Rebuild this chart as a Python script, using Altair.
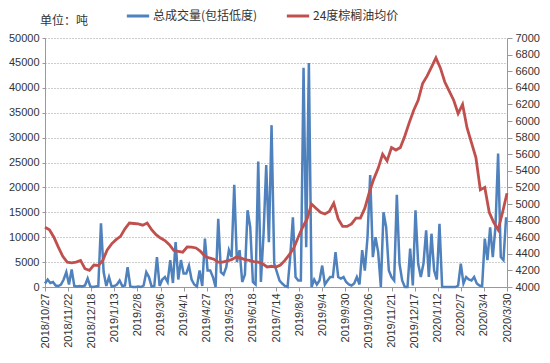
import altair as alt
import pandas as pd

start = "2018-10-27"
vol_name = "总成交量(包括低度)"
price_name = "24度棕榈油均价"

# volume (tons), one reading every 3 days from 2018/10/27
volume = [
    700, 1500, 800, 1000, 300, 200, 500, 1500, 3000, 500,
    3500, 200, 100, 200, 100, 300, 1700, 100, 0, 100,
    200, 12800, 3000, 200, 2000, 100, 200, 500, 1300, 200,
    300, 4000, 100, 0, 0, 100, 0, 300, 3000, 2000,
    100, 200, 6000, 200, 1500, 2000, 1000, 5400, 800, 9000,
    1500, 5400, 2700, 2700, 4300, 1500, 500, 100, 3300, 200,
    9700, 3300, 3300, 2000, 0, 13700, 3000, 2500, 4000, 7400,
    6000, 20500, 5000, 7400, 1000, 2500, 15400, 12000, 1000, 500,
    25200, 1000, 10700, 24500, 9000, 32500, 4700, 3000, 1300, 700,
    200, 0, 6000, 14000, 2000, 1300, 1300, 44000, 8000, 45000,
    0, 1500, 500, 1300, 4300, 500, 1300, 2000, 2000, 7000,
    2000, 1700, 2000, 1000, 500, 300, 700, 2000, 500, 7400,
    3300, 10000, 22500, 6000, 10000, 7000, 0, 15000, 12000, 3300,
    2000, 1300, 18500, 4700, 1300, 0, 0, 7700, 300, 15400,
    4700, 2000, 4700, 11400, 2000, 10700, 3300, 1500, 12700, 0,
    0, 0, 0, 0, 0, 300, 4700, 700, 2000, 1500,
    1300, 2000, 700, 300, 200, 9700, 5400, 12000, 6000, 12000,
    26800, 6000, 5400, 14000,
]

# average price, one reading every 5 days from 2018/10/27
price = [
    4720, 4690, 4600, 4480, 4370, 4300, 4290, 4300, 4320, 4220,
    4200, 4265, 4260, 4320, 4446, 4520, 4570, 4610, 4700, 4771,
    4765, 4760, 4745, 4771, 4690, 4630, 4590, 4560, 4510, 4440,
    4430, 4420, 4482, 4480, 4470, 4430, 4370, 4350, 4335, 4300,
    4300, 4315, 4330, 4360, 4350, 4330, 4320, 4305, 4300, 4280,
    4241, 4250, 4240, 4265, 4320, 4390, 4470, 4600, 4720, 4820,
    5000, 4950, 4900, 4880, 4910, 5010, 4820, 4730, 4730, 4760,
    4830, 4830, 4950, 5140, 5300, 5430, 5600, 5520, 5680, 5650,
    5680, 5820, 5980, 6130, 6250, 6450, 6540, 6650, 6760, 6640,
    6470, 6360, 6250, 6090, 6200, 5920, 5740, 5560, 5170, 5200,
    4900, 4780, 4690, 4900, 5130,
]

tick_labels = [
    "2018/10/27", "2018/11/22", "2018/12/18", "2019/1/13", "2019/2/8",
    "2019/3/6", "2019/4/1", "2019/4/27", "2019/5/23", "2019/6/18",
    "2019/7/14", "2019/8/9", "2019/9/4", "2019/9/30", "2019/10/26",
    "2019/11/21", "2019/12/17", "2020/1/12", "2020/2/7", "2020/3/4",
    "2020/3/30",
]
left_ticks = list(range(0, 50001, 5000))
right_ticks = list(range(4000, 7001, 200))

vol_df = pd.DataFrame({
    "date": pd.date_range(start, periods=len(volume), freq="3D"),
    "value": volume,
    "series": vol_name,
})
price_df = pd.DataFrame({
    "date": pd.date_range(start, periods=len(price), freq="5D"),
    "value": price,
    "series": price_name,
})

tick_dt = []
for s in tick_labels:
    y, m, d = [int(p) for p in s.split("/")]
    tick_dt.append(alt.DateTime(year=y, month=m, date=d))

x_enc = alt.X(
    "date:T",
    scale=alt.Scale(domain=[alt.DateTime(year=2018, month=10, date=27),
                            alt.DateTime(year=2020, month=3, date=30)], nice=False),
    axis=alt.Axis(values=tick_dt, format="%Y/%-m/%-d", labelAngle=270,
                  labelAlign="right", labelBaseline="middle", title=None,
                  grid=False, tickSize=4, labelFontSize=11, labelColor="#333",
                  domainColor="#999", tickColor="#999", labelOverlap=False,
                  labelPadding=2, labelFont="Liberation Sans"),
)

color_scale = alt.Scale(domain=[vol_name, price_name], range=["#4F81BD", "#C0504D"])
legend = alt.Legend(orient="none", legendX=80, legendY=-35, direction="horizontal",
                    title=None, symbolType="stroke", symbolStrokeWidth=3,
                    symbolSize=500, labelFontSize=12, labelFont="Noto Sans CJK SC",
                    labelColor="#333", columnPadding=22, labelOffset=2,
                    labelLimit=300)

vol_line = alt.Chart(vol_df).mark_line(strokeWidth=2.5).encode(
    x=x_enc,
    y=alt.Y("value:Q", scale=alt.Scale(domain=[0, 50000], nice=False),
            axis=alt.Axis(values=left_ticks, format="d", title=None, grid=True,
                          gridDash=[1, 2], gridColor="#9a9a9a", labelFontSize=11,
                          labelColor="#333", domainColor="#999", tickColor="#999",
                          tickSize=3, labelPadding=3, labelFont="Liberation Sans")),
    color=alt.Color("series:N", scale=color_scale, legend=legend),
)

price_line = alt.Chart(price_df).mark_line(strokeWidth=2.8).encode(
    x=x_enc,
    y=alt.Y("value:Q", scale=alt.Scale(domain=[4000, 7000], nice=False),
            axis=alt.Axis(values=right_ticks, format="d", title=None, orient="right",
                          grid=False, labelFontSize=11, labelColor="#333",
                          domainColor="#999", tickColor="#999", tickSize=5,
                          labelPadding=3, labelFont="Liberation Sans")),
    color=alt.Color("series:N", scale=color_scale, legend=legend),
)

unit = alt.Chart(pd.DataFrame({"t": ["单位：吨"]})).mark_text(
    align="left", baseline="middle", fontSize=12, font="Noto Sans CJK SC", color="#333"
).encode(x=alt.value(-5), y=alt.value(-17), text="t:N")

chart = alt.layer(vol_line, price_line, unit).resolve_scale(
    y="independent"
).properties(
    width=462, height=249,
    autosize=alt.AutoSizeParams(type="none"),
    padding={"left": 37, "top": 30, "right": 35, "bottom": 68},
).configure_view(stroke=None)

chart.save("out.html", embed_options={"renderer": "svg", "actions": False})
